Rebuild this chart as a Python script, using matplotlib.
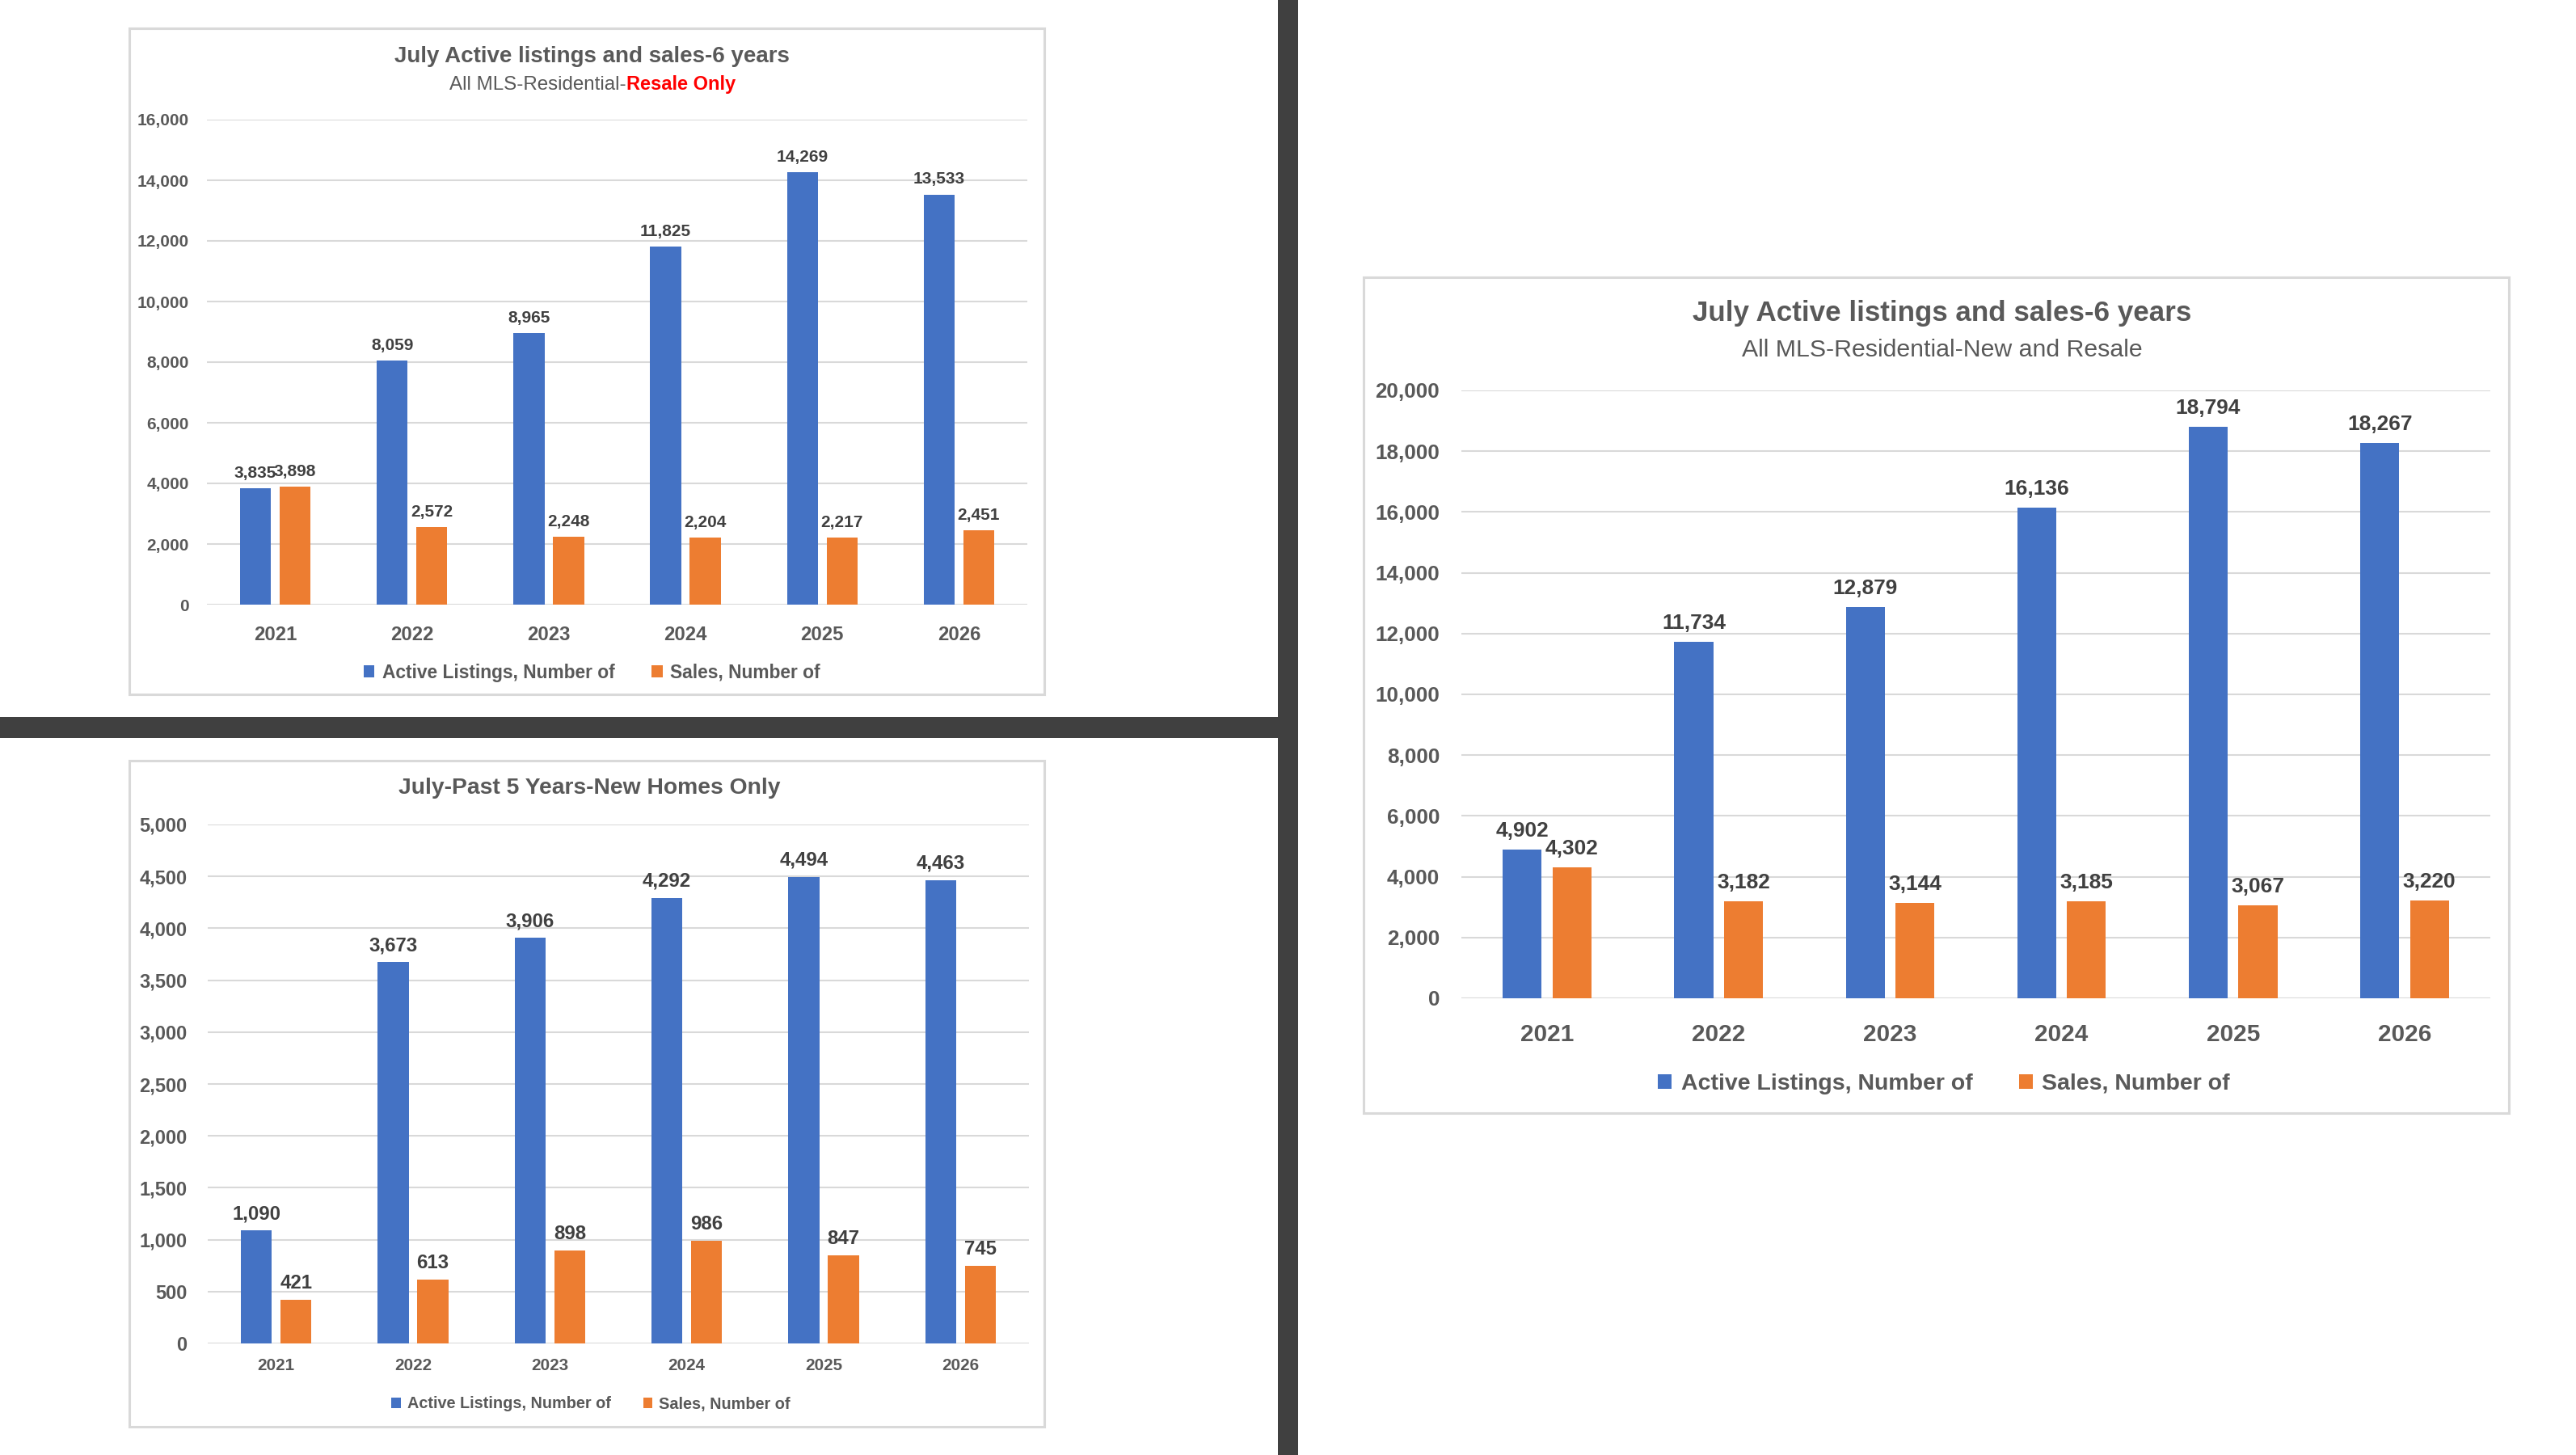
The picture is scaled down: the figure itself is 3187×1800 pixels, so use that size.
import matplotlib
matplotlib.use("Agg")
import matplotlib.pyplot as plt
from matplotlib.patches import Rectangle, Patch

plt.rcParams['font.family'] = ['Liberation Sans', 'DejaVu Sans']

# data
years = ['2021', '2022', '2023', '2024', '2025', '2026']
resale_active = [3835, 8059, 8965, 11825, 14269, 13533]
resale_sales = [3898, 2572, 2248, 2204, 2217, 2451]
new_active = [1090, 3673, 3906, 4292, 4494, 4463]
new_sales = [421, 613, 898, 986, 847, 745]
all_active = [4902, 11734, 12879, 16136, 18794, 18267]
all_sales = [4302, 3182, 3144, 3185, 3067, 3220]
series_names = ['Active Listings, Number of', 'Sales, Number of']

BLUE = '#4472C4'
ORANGE = '#ED7D31'
GRID = '#D9D9D9'
TXT = '#595959'
LBL = '#404040'

W, H = 3187, 1800
fig = plt.figure(figsize=(W / 100, H / 100), dpi=100)
fig.patch.set_facecolor('white')


def fx(px):
    return px / W


def fy(py):
    return 1 - py / H


def box(x0, y0, x1, y1, color, fill=False, lw=2.0):
    fig.patches.append(Rectangle((fx(x0), fy(y1)), fx(x1) - fx(x0), fy(y0) - fy(y1),
                                 transform=fig.transFigure, facecolor=color if fill else 'none',
                                 edgecolor='none' if fill else color, linewidth=lw, zorder=0))


def panel(rect, active, sales, ymax, ystep, tick_fs, year_fs, lab_fs, year_pad, ytick_pad, lab_off):
    x0, y0, x1, y1 = rect
    ax = fig.add_axes([fx(x0), fy(y1), fx(x1) - fx(x0), fy(y0) - fy(y1)])
    xs = range(len(years))
    w, off = 0.227, 0.145
    b1 = ax.bar([x - off for x in xs], active, w, color=BLUE, zorder=3)
    b2 = ax.bar([x + off for x in xs], sales, w, color=ORANGE, zorder=3)
    for bars in (b1, b2):
        for r in bars:
            v = r.get_height()
            ax.annotate(f'{v:,.0f}', (r.get_x() + r.get_width() / 2, v), xytext=(0, lab_off),
                        textcoords='offset points', ha='center', va='bottom',
                        fontsize=lab_fs, fontweight='bold', color=LBL)
    ax.set_xlim(-0.5, len(years) - 0.5)
    ax.set_ylim(0, ymax)
    ax.set_yticks(range(0, ymax + 1, ystep))
    ax.set_yticklabels([f'{v:,}' for v in range(0, ymax + 1, ystep)])
    ax.set_xticks(list(xs))
    ax.set_xticklabels(years)
    ax.grid(axis='y', color=GRID, lw=1.5, zorder=0)
    ax.set_axisbelow(True)
    for s in ax.spines.values():
        s.set_visible(False)
    ax.tick_params(axis='y', length=0, pad=ytick_pad, labelsize=tick_fs, labelcolor=TXT)
    ax.tick_params(axis='x', length=0, pad=year_pad, labelsize=year_fs, labelcolor=TXT)
    for t in ax.get_xticklabels() + ax.get_yticklabels():
        t.set_fontweight('bold')
    ax.patch.set_alpha(0)
    return ax


def legend(cx, cy, fs):
    handles = [Patch(facecolor=BLUE), Patch(facecolor=ORANGE)]
    fig.legend(handles, series_names, loc='center', bbox_to_anchor=(fx(cx), fy(cy)), ncol=2,
               frameon=False, handlelength=0.6, handleheight=0.6, handletextpad=0.4,
               columnspacing=2.0, labelcolor=TXT, prop=dict(weight='bold', size=fs))


# background frames and separators
box(1581, 0, 1606, H, '#404040', fill=True)
box(0, 887, 1581, 913, '#404040', fill=True)
box(160, 35, 1292, 859, GRID, lw=2.2)
box(160, 941, 1292, 1765, GRID, lw=2.2)
box(1687, 343, 3104, 1377, GRID, lw=2.2)

# top left: resale only
panel((256, 148, 1271, 748), resale_active, resale_sales, 16000, 2000,
      15.0, 17.2, 15.0, 18.5, 15.8, 6.5)
fig.text(fx(732), fy(70), 'July Active listings and sales-6 years', ha='center', va='center',
         fontsize=20, fontweight='bold', color=TXT)
t1 = fig.text(fx(556), fy(105), 'All MLS-Residential-', ha='left', va='center',
              fontsize=17.4, color=TXT)
fig.texts.append(matplotlib.text.Annotation('Resale Only', xy=(1, 0), xycoords=t1, ha='left',
                                            va='bottom', fontsize=17.0, fontweight='bold',
                                            color='#FF0000'))
fig.texts[-1].set_figure(fig)
legend(732, 832, 16.4)

# bottom left: new homes only
panel((257, 1020, 1273, 1662), new_active, new_sales, 5000, 500,
      17.0, 14.9, 17.3, 12.7, 18.5, 6.5)
fig.text(fx(729), fy(975), 'July-Past 5 Years-New Homes Only', ha='center', va='center',
         fontsize=20.3, fontweight='bold', color=TXT)
legend(731, 1737, 14.3)

# right: new and resale
panel((1808, 483, 3081, 1235), all_active, all_sales, 20000, 2000,
      18.7, 21.4, 18.9, 22.5, 19.4, 8.0)
fig.text(fx(2403), fy(388), 'July Active listings and sales-6 years', ha='center', va='center',
         fontsize=25.2, fontweight='bold', color=TXT)
fig.text(fx(2403), fy(433), 'All MLS-Residential-New and Resale', ha='center', va='center',
         fontsize=21.8, color=TXT)
legend(2405, 1341, 20.5)

plt.savefig('out.png', dpi=100, facecolor='white')
